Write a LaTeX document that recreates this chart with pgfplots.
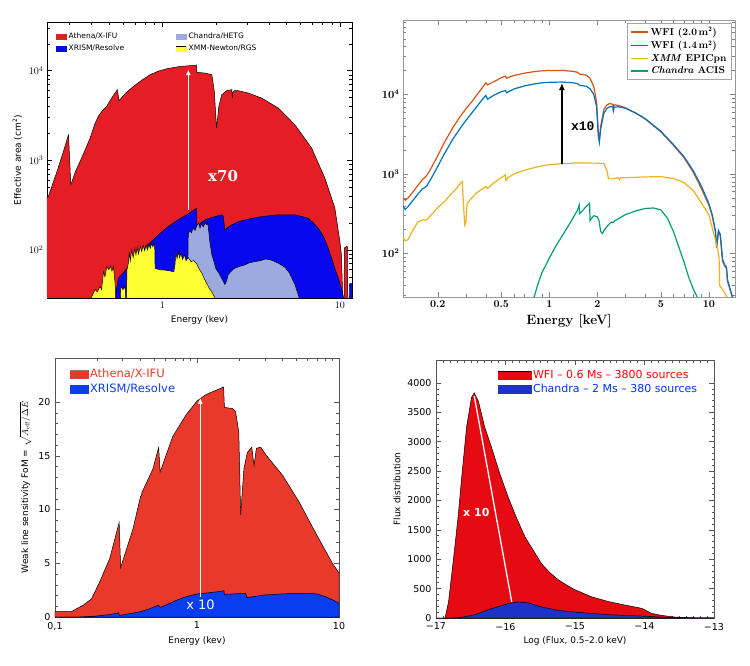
\documentclass[border=0pt]{standalone}
\usepackage{pgfplots}
\pgfplotsset{compat=1.18}
\usepackage{fontspec}
\usetikzlibrary{arrows.meta}
\newfontfamily\lucida{DejaVu Sans}
\newfontfamily\slab{DejaVu Serif}
\newfontfamily\cmono{Liberation Mono}

\definecolor{aRed}{HTML}{E41E24}
\definecolor{aBlue}{HTML}{0808F0}
\definecolor{aLight}{HTML}{9DAAE0}
\definecolor{aYel}{HTML}{FFFF33}
\definecolor{wfiTwo}{HTML}{D95319}
\definecolor{wfiOne}{HTML}{0072BD}
\definecolor{xmmPn}{HTML}{EDB120}
\definecolor{acis}{HTML}{009E73}
\definecolor{fRed}{HTML}{E8392A}
\definecolor{fBlue}{HTML}{0A3CF0}
\definecolor{dRed}{HTML}{E60A12}
\definecolor{dBlue}{HTML}{1E32C8}
\definecolor{frameGray}{HTML}{555555}

\begin{document}
\begin{tikzpicture}
\useasboundingbox (0,0) rectangle (750pt,665pt);

% ---------------- top left: effective area, X-IFU
\begin{axis}[
    at={(47pt,367pt)}, anchor=south west, scale only axis,
    width=305pt, height=276pt,
    xmode=log, ymode=log,
    xmin=0.224, xmax=11.7, ymin=29, ymax=35000,
    xtick={1,10}, xticklabels={1,10},
    minor xtick={0.3,0.4,0.5,0.6,0.7,0.8,0.9,2,3,4,5,6,7,8,9},
    tick align=inside, major tick length=5pt, minor tick length=3pt,
    every tick/.style={black, line width=0.5pt},
    axis line style={black, line width=0.8pt},
    tick label style={font=\fontsize{10}{10}\selectfont},
    xlabel={Energy (kev)},
    ylabel={Effective area (cm\textsuperscript{2})},
    label style={font=\lucida\fontsize{9}{10}\selectfont},
    legend style={at={(0.02,0.975)}, anchor=north west, draw=none, fill=none,
        font=\lucida\fontsize{7.5}{8}\selectfont, row sep=1pt,
        /tikz/every even column/.append style={column sep=50pt}},
    legend columns=2, legend cell align=left,
]
\addplot[fill=aRed, draw=black, line width=0.5pt, forget plot] coordinates {
 (0.22,370) (0.228,395) (0.255,750) (0.277,1250) (0.296,1930) (0.305,532)
 (0.325,760) (0.344,970) (0.37,1350) (0.392,1770) (0.415,2500) (0.436,3100)
 (0.46,3600) (0.486,4000) (0.52,5000) (0.558,6140) (0.570,4620) (0.62,5600)
 (0.687,6680) (0.77,7900) (0.853,9020) (0.95,9900) (1.059,10520) (1.258,11170)
 (1.53,11500) (1.555,11600) (1.565,9600) (1.75,9400) (1.9,9020) (1.96,6000)
 (2.02,2290) (2.08,4000) (2.16,5390) (2.30,5980) (2.46,6140) (2.48,4960)
 (2.50,5800) (2.54,6000) (2.68,5980) (3.05,5630) (3.62,4960) (4.5,3830)
 (5.58,2490) (6.93,1370) (8.23,632) (9.37,292) (10.0,124) (10.2,88) (10.4,25)
 (10.55,25) (10.6,105) (11.0,110) (11.1,20) (11.7,20)
} \closedcycle;
\addplot[fill=aBlue, draw=black, line width=0.5pt, forget plot] coordinates {
 (0.53,20) (0.542,29) (0.565,48) (0.60,55) (0.644,65) (0.70,78) (0.75,92)
 (0.84,117) (0.93,141) (1.04,172) (1.15,199) (1.26,224) (1.37,246) (1.45,265)
 (1.53,285) (1.56,290) (1.565,182) (1.65,200) (1.74,216) (1.85,226) (1.98,235)
 (2.16,246) (2.2,240) (2.25,167) (2.35,180) (2.46,190) (2.65,205) (2.92,216)
 (3.2,225) (3.62,235) (4.5,246) (5.58,246) (6.62,226) (7.0,205) (7.55,175)
 (8.1,140) (8.6,104) (9.0,80) (9.37,62) (9.8,48) (10.2,37) (10.5,29) (10.6,20)
 (11.3,20) (11.35,42) (11.8,42)
} \closedcycle;
\addplot[fill=aLight, draw=black, line width=0.5pt, forget plot] coordinates {
 (1.38,20) (1.40,150) (1.43,165) (1.46,155) (1.49,175) (1.53,165) (1.56,184)
 (1.6,200) (1.63,175) (1.66,195) (1.7,180) (1.74,200) (1.78,190) (1.8,205)
 (1.82,170) (1.85,124) (1.9,88) (1.95,75) (2.0,62) (2.08,55) (2.16,48)
 (2.25,41) (2.3,45) (2.35,53) (2.45,58) (2.54,62) (2.7,65) (2.92,68) (3.1,72)
 (3.35,74) (3.6,76) (3.8,79) (4.1,77) (4.5,71) (4.9,64) (5.2,55) (5.58,41)
 (5.9,29) (6.0,20)
} \closedcycle;
\addplot[fill=aYel, draw=black, line width=0.5pt, forget plot] coordinates {
 (0.39,20) (0.40,30) (0.418,36) (0.43,34) (0.446,39) (0.455,36) (0.466,57)
 (0.475,50) (0.486,65) (0.50,60) (0.51,66) (0.52,58) (0.53,65) (0.542,42)
 (0.549,20) (0.575,20) (0.583,39) (0.60,36) (0.617,39) (0.625,22) (0.632,60)
 (0.644,71) (0.65,95) (0.66,75) (0.672,100) (0.685,82) (0.70,104) (0.71,88)
 (0.72,106) (0.735,90) (0.75,110) (0.765,96) (0.78,112) (0.795,98) (0.81,113)
 (0.825,100) (0.84,116) (0.855,104) (0.87,118) (0.885,108) (0.90,120)
 (0.905,117) (0.91,62) (0.97,60) (1.06,59) (1.16,57) (1.18,70) (1.19,96)
 (1.21,80) (1.23,95) (1.25,82) (1.27,92) (1.30,78) (1.33,88) (1.36,76)
 (1.40,82) (1.45,74) (1.50,76) (1.56,70) (1.62,60) (1.67,55) (1.72,48)
 (1.78,42) (1.84,37) (1.9,34) (1.96,30) (1.98,20)
} \closedcycle;
\addlegendimage{legend image code/.code={\fill[aRed] (0pt,-2.5pt) rectangle (10pt,2.5pt);}}
\addlegendimage{legend image code/.code={\fill[aLight] (0pt,-2.5pt) rectangle (10pt,2.5pt);}}
\addlegendimage{legend image code/.code={\fill[aBlue] (0pt,-2.5pt) rectangle (10pt,2.5pt);}}
\addlegendimage{legend image code/.code={\fill[aYel] (0pt,-2.5pt) rectangle (10pt,2.5pt);
    \draw[black, line width=0.6pt] (0pt,2.5pt) -- (10pt,2.5pt);}}
\legend{Athena/X-IFU, Chandra/HETG, XRISM/Resolve, XMM-Newton/RGS}
\draw[white, line width=1.3pt, -{Latex[length=6pt,width=5pt]}]
    (axis cs:1.4,280) -- (axis cs:1.4,10400);
\node[white, font=\slab\bfseries\fontsize{15}{15}\selectfont] at (axis cs:2.2,670) {x70};
\end{axis}

% ---------------- top right: effective area, WFI
\begin{axis}[
    at={(403pt,368pt)}, anchor=south west, scale only axis,
    width=332pt, height=277pt,
    xmode=log, ymode=log,
    xmin=0.121, xmax=14.6, ymin=28.6, ymax=86000,
    xtick={0.2,0.5,1,2,5,10}, xticklabels={0.2,0.5,1,2,5,10},
    minor xtick={0.3,0.4,0.6,0.7,0.8,0.9,3,4,6,7,8,9},
    tick align=inside, major tick length=5pt, minor tick length=3pt,
    every tick/.style={gray, line width=0.5pt},
    axis line style={gray!80, line width=0.6pt},
    tick label style={font=\bfseries\boldmath\fontsize{10.5}{11}\selectfont},
    xlabel={Energy [keV]},
    label style={font=\bfseries\fontsize{13.5}{14}\selectfont},
    legend style={at={(0.99,0.99)}, anchor=north east, draw=gray!70,
        font=\bfseries\fontsize{10}{11}\selectfont, row sep=0pt},
    legend cell align=left,
    legend image post style={line width=1.6pt},
]
\addplot[color=wfiTwo, no markers, line width=1.2pt] coordinates {
 (0.12,500) (0.125,470) (0.13,500) (0.14,600) (0.15,720) (0.16,850) (0.17,950)
 (0.18,1150) (0.2,1700) (0.22,2500) (0.25,3900) (0.28,5500) (0.3,6600)
 (0.33,8300) (0.36,10500) (0.39,13000) (0.40,14000) (0.41,13200) (0.45,14500)
 (0.5,16200) (0.53,17000) (0.54,16000) (0.56,16500) (0.6,17300) (0.7,18500)
 (0.8,19300) (0.9,19800) (1.0,20000) (1.2,20000) (1.4,19500) (1.5,19000)
 (1.55,18000) (1.7,17500) (1.8,16000) (1.9,12500) (1.98,8000) (2.03,3300)
 (2.06,2700) (2.1,4000) (2.2,6500) (2.3,7400) (2.4,7700) (2.5,7500) (2.52,6700)
 (2.55,7400) (2.7,7300) (3.0,6800) (3.5,5800) (4.0,4900) (5.0,3400) (6.0,2300)
 (7.0,1600) (8.0,1050) (9.0,650) (10.0,410) (10.5,300) (11.0,190) (11.2,118)
 (11.5,190) (11.8,170) (12.2,80) (12.6,70) (12.9,66) (13.1,45) (14.1,28)
};
\addlegendentry{WFI (2.0\,m$^\mathbf{2}$)}
\addplot[color=wfiOne, no markers, line width=1.2pt] coordinates {
 (0.12,400) (0.125,360) (0.13,390) (0.14,470) (0.15,560) (0.16,650) (0.17,700)
 (0.18,850) (0.2,1250) (0.22,1800) (0.25,2800) (0.28,3900) (0.3,4700)
 (0.33,6000) (0.36,7500) (0.39,9200) (0.40,9700) (0.41,8700) (0.45,9800)
 (0.5,10800) (0.53,11200) (0.54,10500) (0.56,10900) (0.6,11700) (0.7,12800)
 (0.8,13500) (0.9,14000) (1.0,14200) (1.2,14300) (1.4,14000) (1.5,13700)
 (1.55,13000) (1.7,12700) (1.8,11800) (1.9,10000) (1.98,7000) (2.03,3000)
 (2.06,2500) (2.1,3700) (2.2,5800) (2.3,6700) (2.4,7000) (2.5,7000) (2.52,6200)
 (2.55,6900) (2.7,7000) (3.0,6700) (3.5,5800) (4.0,4950) (5.0,3450) (6.0,2350)
 (7.0,1650) (8.0,1100) (9.0,700) (10.0,430) (10.5,310) (11.0,195) (11.2,122)
 (11.5,195) (11.8,175) (12.2,85) (12.6,72) (12.9,68) (13.1,47) (14.1,28)
};
\addlegendentry{WFI (1.4\,m$^\mathbf{2}$)}
\addplot[color=xmmPn, no markers, line width=1.2pt] coordinates {
 (0.12,165) (0.125,145) (0.13,150) (0.14,200) (0.15,250) (0.16,265) (0.17,265)
 (0.18,300) (0.2,380) (0.22,450) (0.24,550) (0.26,650) (0.28,780) (0.285,800)
 (0.29,400) (0.295,230) (0.30,250) (0.305,420) (0.32,480) (0.35,580) (0.4,700)
 (0.41,660) (0.45,780) (0.5,900) (0.53,980) (0.535,830) (0.55,900) (0.6,1000)
 (0.7,1120) (0.8,1200) (0.9,1270) (1.0,1310) (1.2,1350) (1.5,1380) (2.0,1370)
 (2.2,1350) (2.3,1100) (2.35,870) (2.5,870) (2.7,900) (2.75,850) (2.8,900)
 (3.0,900) (4.0,920) (5.0,930) (6.0,880) (7.0,780) (8.0,620) (8.7,480)
 (10.0,310) (11.0,150) (11.3,120) (11.6,90) (11.7,40) (12.5,33) (13.5,25)
};
\addlegendentry{\textit{XMM} EPICpn}
\addplot[color=acis, no markers, line width=1.2pt] coordinates {
 (0.8,28) (0.85,42) (0.9,58) (1.0,88) (1.1,125) (1.2,165) (1.3,215) (1.4,275)
 (1.5,350) (1.54,410) (1.55,320) (1.6,340) (1.7,390) (1.77,420) (1.79,430)
 (1.8,260) (1.85,280) (1.9,300) (2.0,290) (2.05,260) (2.1,190) (2.15,180)
 (2.2,195) (2.3,220) (2.45,250) (2.5,245) (2.55,255) (3.0,310) (3.5,345)
 (4.0,370) (4.5,375) (5.0,355) (5.5,280) (6.0,190) (6.5,120) (7.0,78)
 (7.5,50) (8.0,36) (8.5,28)
};
\addlegendentry{\textit{Chandra} ACIS}
\draw[black, line width=1.5pt, -{Latex[length=7pt,width=6pt]}]
    (axis cs:1.2,1330) -- (axis cs:1.2,13900);
\node[font=\cmono\bfseries\fontsize{13}{13}\selectfont] at (axis cs:1.62,4000) {x10};
\end{axis}

% ---------------- bottom left: weak line sensitivity
\begin{axis}[
    at={(55pt,48pt)}, anchor=south west, scale only axis,
    width=284pt, height=259pt,
    xmode=log,
    xmin=0.1, xmax=10, ymin=0, ymax=24.1,
    xtick={0.1,1,10}, xticklabels={{0,1},1,10},
    minor xtick={0.2,0.3,0.4,0.5,0.6,0.7,0.8,0.9,2,3,4,5,6,7,8,9},
    ytick={0,5,10,15,20}, minor y tick num=4,
    tick align=inside, major tick length=5pt, minor tick length=3pt,
    every tick/.style={frameGray, line width=0.5pt},
    axis line style={frameGray, line width=0.7pt},
    /pgf/number format/assume math mode=true,
    tick label style={font=\lucida\fontsize{9.5}{10}\selectfont},
    xticklabel style={yshift=-1.5pt},
    yticklabel style={xshift=-1pt},
    xlabel={Energy (kev)},
    ylabel={Weak line sensitivity FoM = $\sqrt{A_{\mathrm{eff}}/\Delta E}$},
    label style={font=\lucida\fontsize{9}{10}\selectfont},
    legend style={at={(0.04,0.975)}, anchor=north west, draw=none, fill=none,
        font=\lucida\fontsize{11.5}{12}\selectfont, row sep=1pt},
    legend cell align=left,
]
\addplot[fill=fRed, draw=black, line width=0.5pt, forget plot] coordinates {
 (0.1,0.5) (0.13,0.5) (0.158,1.1) (0.181,1.7) (0.207,3.3) (0.243,5.45)
 (0.283,8.8) (0.29,4.6) (0.355,8.25) (0.40,11.2) (0.406,11.3) (0.41,11.6)
 (0.49,13.8) (0.537,15.8) (0.55,13.5) (0.675,16.8) (0.837,18.8) (1.0,20.1)
 (1.157,20.7) (1.54,21.4) (1.56,19.5) (1.78,19.4) (1.87,19.1) (1.97,17.2)
 (2.03,9.5) (2.14,13.8) (2.26,15.3) (2.43,15.8) (2.52,14.1) (2.62,15.7)
 (2.81,15.8) (3.05,15.1) (4.0,13.2) (5.24,10.7) (6.86,7.8) (8.98,5.0) (10,4.1)
} \closedcycle;
\addplot[fill=fBlue, draw=black, line width=0.5pt, forget plot] coordinates {
 (0.1,0) (0.15,0) (0.2,0.1) (0.25,0.25) (0.28,0.4) (0.285,0.15) (0.3,0.2)
 (0.35,0.35) (0.4,0.5) (0.45,0.7) (0.5,0.95) (0.535,1.1) (0.55,0.9) (0.6,1.1)
 (0.7,1.5) (0.8,1.8) (0.9,2.0) (1.0,2.15) (1.2,2.25) (1.5,2.4) (1.55,2.45)
 (1.56,2.1) (1.8,2.15) (2.2,2.2) (2.25,1.8) (2.5,1.9) (3.0,2.05) (4.0,2.15)
 (5.0,2.2) (6.0,2.2) (7.0,2.15) (8.0,1.9) (9.0,1.6) (10,1.3)
} \closedcycle;
\addlegendimage{legend image code/.code={\fill[fRed] (0pt,-4pt) rectangle (18pt,4pt);
    \draw[gray, line width=0.5pt] (0pt,4pt) -- (18pt,4pt);}}
\addlegendimage{legend image code/.code={\fill[fBlue] (0pt,-4pt) rectangle (18pt,4pt);}}
\addlegendentry[text=fRed]{Athena/X-IFU}
\addlegendentry[text=fBlue]{XRISM/Resolve}
\draw[white, line width=1.3pt, -{Latex[length=6pt,width=5pt]}]
    (axis cs:1.055,1.9) -- (axis cs:1.055,20.4);
\node[white, font=\lucida\fontsize{13}{13}\selectfont] at (axis cs:1.06,1.15) {x 10};
\end{axis}

% ---------------- bottom right: flux distribution
\begin{axis}[
    at={(436pt,47pt)}, anchor=south west, scale only axis,
    width=278pt, height=258pt,
    xmin=-17, xmax=-13, ymin=0, ymax=4390,
    xtick={-17,-16,-15,-14,-13}, xticklabels={−17,−16,−15,−14,−13},
    minor x tick num=9,
    ytick={0,500,1000,1500,2000,2500,3000,3500,4000},
    yticklabels={0,500,1000,1500,2000,2500,3000,3500,4000},
    minor y tick num=4, scaled y ticks=false,
    tick align=inside, major tick length=5pt, minor tick length=2.5pt,
    every tick/.style={frameGray, line width=0.5pt},
    axis line style={frameGray, line width=0.7pt},
    tick label style={font=\lucida\fontsize{9.5}{10}\selectfont},
    xticklabel style={yshift=-1.5pt},
    yticklabel style={xshift=-1pt},
    xlabel={Log (Flux, 0.5–2.0 keV)},
    ylabel={Flux distribution},
    label style={font=\lucida\fontsize{9}{10}\selectfont},
    legend style={at={(0.21,0.975)}, anchor=north west, draw=none, fill=none,
        font=\lucida\fontsize{11}{12}\selectfont, row sep=0pt},
    legend cell align=left,
]
\addplot[fill=dRed, draw=black, line width=0.5pt, forget plot] coordinates {
 (-17,0) (-16.87,0) (-16.82,270) (-16.73,1200) (-16.68,1750) (-16.63,2400)
 (-16.56,3250) (-16.49,3750) (-16.45,3830) (-16.39,3690) (-16.3,3250)
 (-16.2,2900) (-16.08,2450) (-15.96,2050) (-15.84,1700) (-15.72,1380)
 (-15.6,1150) (-15.48,920) (-15.36,770) (-15.24,650) (-15.12,560) (-15.0,480)
 (-14.76,360) (-14.52,280) (-14.28,220) (-14.04,165) (-13.9,80) (-13.76,45)
 (-13.57,17) (-13.33,5) (-13,0)
} \closedcycle;
\addplot[fill=dBlue, draw=black, line width=0.5pt, forget plot] coordinates {
 (-17,0) (-16.73,0) (-16.6,20) (-16.44,57) (-16.2,160) (-15.96,245)
 (-15.82,273) (-15.67,256) (-15.48,188) (-15.24,130) (-15.0,100)
 (-14.52,57) (-14.04,34) (-13.8,17) (-13.57,5) (-13,0)
} \closedcycle;
\addlegendimage{legend image code/.code={\fill[dRed] (0pt,-4pt) rectangle (33pt,4pt);
    \draw[black, line width=0.5pt] (0pt,4pt) -- (33pt,4pt);}}
\addlegendimage{legend image code/.code={\fill[dBlue] (0pt,-4pt) rectangle (33pt,4pt);}}
\addlegendentry[text=red]{WFI – 0.6 Ms – 3800 sources}
\addlegendentry[text=blue!80!cyan]{Chandra – 2 Ms – 380 sources}
\draw[white, line width=1.3pt] (axis cs:-16.45,3780) -- (axis cs:-15.91,273);
\node[white, font=\lucida\bfseries\fontsize{11}{11}\selectfont] at (axis cs:-16.42,1790) {x 10};
\end{axis}
\end{tikzpicture}
\end{document}
